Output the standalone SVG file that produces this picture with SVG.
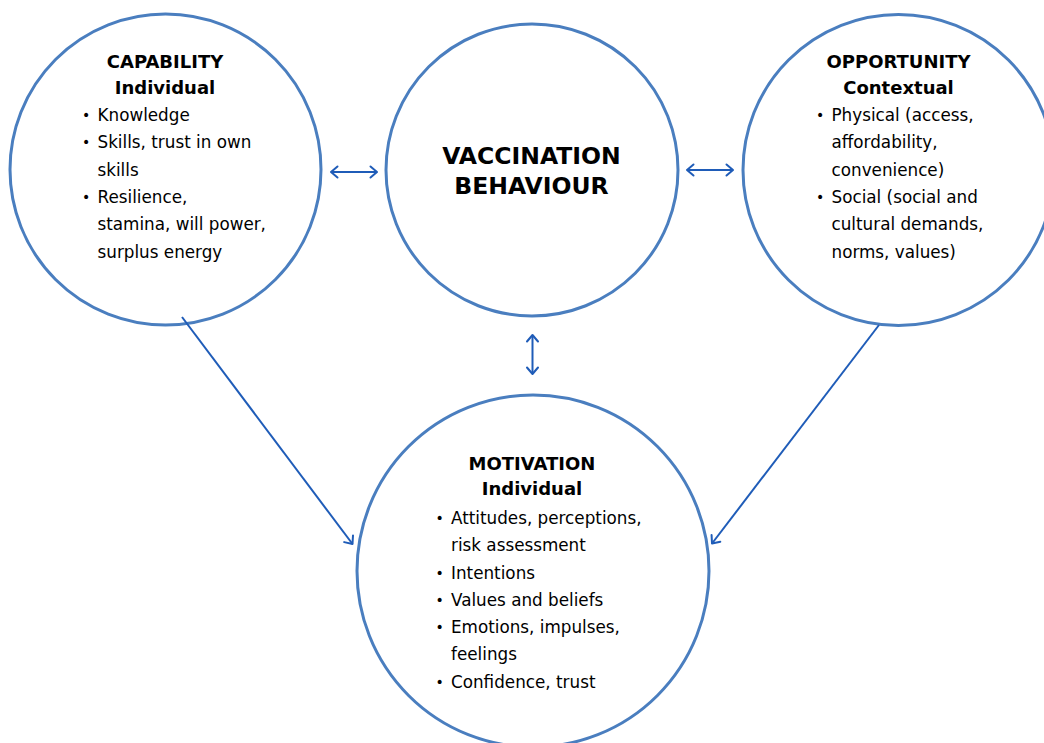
<svg xmlns="http://www.w3.org/2000/svg" width="1044" height="743" viewBox="0 0 1044 743">
  <style>
    .ring { fill: #ffffff; stroke: #4A7EBF; stroke-width: 3; }
    .link { fill: none; stroke: #1F5CB8; stroke-width: 2; }
    .head { font-family: "DejaVu Sans", Verdana, sans-serif; font-weight: bold; font-size: 18px; fill: #000; text-anchor: middle; }
    .core { font-family: "DejaVu Sans", Verdana, sans-serif; font-weight: bold; font-size: 23.5px; fill: #000; text-anchor: middle; }
    .item { font-family: "DejaVu Sans", Verdana, sans-serif; font-size: 16.8px; fill: #000; }
    .dot { font-size: 14px; }
  </style>
  <defs>
    <marker id="tip" viewBox="-10 -8 12 16" refX="0" refY="0" markerWidth="12" markerHeight="16" markerUnits="userSpaceOnUse" orient="auto-start-reverse">
      <path d="M-6.5,-5.5 L0,0 L-6.5,5.5" fill="none" stroke="#1F5CB8" stroke-width="2" stroke-linecap="round" stroke-linejoin="round"/>
    </marker>
  </defs>
  <rect width="1044" height="743" fill="#ffffff"/>

  <!-- capability -->
  <g id="capability">
    <circle class="ring" cx="165.5" cy="169.5" r="155.5"/>
    <text class="head" x="165" y="67.5">CAPABILITY</text>
    <text class="head" x="165" y="93.5">Individual</text>
    <g class="item">
      <text class="dot" x="82" y="119.5">•</text><text x="97.5" y="120.5">Knowledge</text>
      <text class="dot" x="82" y="147">•</text><text x="97.5" y="148">Skills, trust in own</text>
      <text x="97.5" y="175.5">skills</text>
      <text class="dot" x="82" y="202">•</text><text x="97.5" y="203">Resilience,</text>
      <text x="97.5" y="230">stamina, will power,</text>
      <text x="97.5" y="257.5">surplus energy</text>
    </g>
  </g>

  <!-- vaccination behaviour -->
  <g id="behaviour">
    <circle class="ring" cx="532" cy="170" r="146"/>
    <text class="core" x="531.5" y="163.5">VACCINATION</text>
    <text class="core" x="531.5" y="193.5">BEHAVIOUR</text>
  </g>

  <!-- opportunity -->
  <g id="opportunity">
    <circle class="ring" cx="898.5" cy="170" r="155.5"/>
    <text class="head" x="898.5" y="67.5">OPPORTUNITY</text>
    <text class="head" x="898.5" y="93.5">Contextual</text>
    <g class="item">
      <text class="dot" x="816" y="119.5">•</text><text x="831.5" y="120.5">Physical (access,</text>
      <text x="831.5" y="148">affordability,</text>
      <text x="831.5" y="175.5">convenience)</text>
      <text class="dot" x="816" y="202">•</text><text x="831.5" y="203">Social (social and</text>
      <text x="831.5" y="230">cultural demands,</text>
      <text x="831.5" y="257.5">norms, values)</text>
    </g>
  </g>

  <!-- motivation -->
  <g id="motivation">
    <circle class="ring" cx="533" cy="571" r="176"/>
    <text class="head" x="532" y="469.5">MOTIVATION</text>
    <text class="head" x="532" y="495">Individual</text>
    <g class="item">
      <text class="dot" x="435.5" y="522.5">•</text><text x="451" y="523.5">Attitudes, perceptions,</text>
      <text x="451" y="551">risk assessment</text>
      <text class="dot" x="435.5" y="577.5">•</text><text x="451" y="578.5">Intentions</text>
      <text class="dot" x="435.5" y="604.5">•</text><text x="451" y="605.5">Values and beliefs</text>
      <text class="dot" x="435.5" y="632">•</text><text x="451" y="633">Emotions, impulses,</text>
      <text x="451" y="660">feelings</text>
      <text class="dot" x="435.5" y="687">•</text><text x="451" y="688">Confidence, trust</text>
    </g>
  </g>

  <!-- connectors, drawn over the circles -->
  <g id="connectors">
    <line class="link" x1="331" y1="172" x2="377" y2="172" marker-start="url(#tip)" marker-end="url(#tip)"/>
    <line class="link" x1="687" y1="170" x2="733" y2="170" marker-start="url(#tip)" marker-end="url(#tip)"/>
    <line class="link" x1="532.5" y1="335" x2="532.5" y2="374" marker-start="url(#tip)" marker-end="url(#tip)"/>
    <line class="link" x1="182" y1="317" x2="352.5" y2="544" marker-end="url(#tip)"/>
    <line class="link" x1="879" y1="325" x2="712" y2="543.5" marker-end="url(#tip)"/>
  </g>
</svg>
